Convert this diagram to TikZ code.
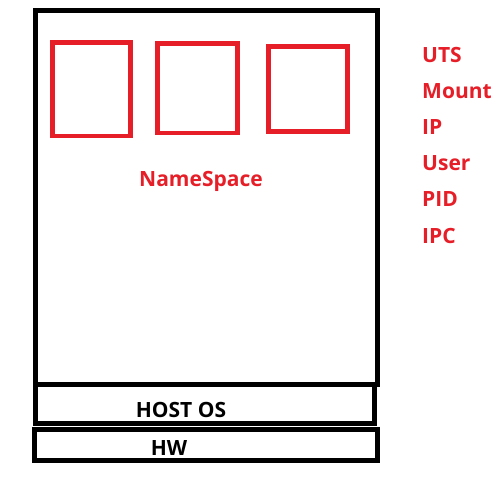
\documentclass[tikz,border=0pt]{standalone}
\usepackage{fontspec}
\setmainfont{Open Sans}
\definecolor{nsred}{RGB}{230,30,40}
\begin{document}
\begin{tikzpicture}[x=1pt,y=-1pt,
  blackbox/.style={draw=black,line width=5pt},
  redbox/.style={draw=nsred,line width=4.5pt},
  redlabel/.style={text=nsred,font=\fontsize{21}{25}\selectfont\bfseries,inner sep=0pt},
  blacklabel/.style={text=black,font=\fontsize{21}{25}\selectfont\bfseries,inner sep=0pt}]
\useasboundingbox (0,0) rectangle (501,484);
\draw[blackbox] (35,10.5) rectangle (377,384);
\draw[blackbox] (35.5,384) rectangle (374,423.5);
\draw[blackbox] (34.5,429.5) rectangle (377,460);
\draw[redbox] (52.5,42.5) rectangle (130.5,136);
\draw[redbox] (157.5,43.5) rectangle (237.5,133);
\draw[redbox] (268.5,46.5) rectangle (347.5,131.5);
\node[redlabel] (ns) at (201,181) {NameSpace};
\node[blacklabel] (host) at (181,410) {HOST OS};
\node[blacklabel] (hw) at (169,448) {HW};
\node[redlabel,anchor=west] (uts) at (422,55) {UTS};
\node[redlabel,anchor=west] (mount) at (422,91.5) {Mount};
\node[redlabel,anchor=west] (ip) at (422,127.5) {IP};
\node[redlabel,anchor=west] (user) at (422,163.5) {User};
\node[redlabel,anchor=west] (pid) at (422,199.5) {PID};
\node[redlabel,anchor=west] (ipc) at (422,236) {IPC};
\end{tikzpicture}
\end{document}
